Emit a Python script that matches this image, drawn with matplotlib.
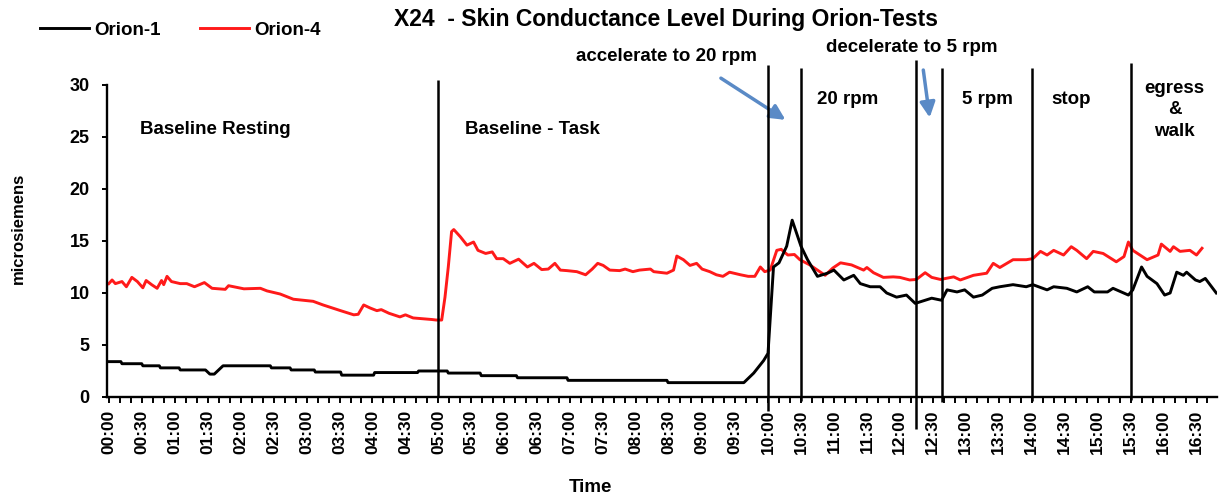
import matplotlib
matplotlib.use("Agg")
import matplotlib.pyplot as plt
import numpy as np

plt.rcParams["font.family"] = ["Liberation Sans", "DejaVu Sans"]
plt.rcParams["font.weight"] = "bold"

# time in minutes from start, skin conductance in microsiemens
orion1_t = [0, 11, 12, 30, 31, 46, 47, 64, 65, 88, 92, 96, 104, 147, 148, 165, 166, 187,
            188, 211, 212, 241, 242, 281, 282, 308, 309, 338, 339, 371, 372, 417, 418, 508,
            509, 578, 587, 596, 600, 605, 610, 617, 622, 630, 636, 645, 654, 660, 669, 678,
            684, 693, 702, 708, 717, 726, 734, 743, 749, 758, 763, 772, 779, 787, 795, 804,
            811, 823, 835, 841, 854, 860, 872, 881, 891, 897, 909, 914, 928, 932, 940, 945,
            954, 961, 966, 972, 978, 981, 989, 993, 998, 1008]
orion1_v = [3.4, 3.4, 3.2, 3.2, 3.0, 3.0, 2.8, 2.8, 2.6, 2.6, 2.2, 2.2, 3.0, 3.0, 2.8, 2.8,
            2.6, 2.6, 2.4, 2.4, 2.1, 2.1, 2.35, 2.35, 2.5, 2.5, 2.3, 2.3, 2.05, 2.05, 1.85,
            1.85, 1.6, 1.6, 1.38, 1.38, 2.3, 3.5, 4.2, 12.5, 12.9, 14.5, 17.0, 14.5, 13.2,
            11.6, 11.9, 12.2, 11.25, 11.7, 10.9, 10.6, 10.6, 10.0, 9.6, 9.8, 9.0, 9.3, 9.5,
            9.3, 10.3, 10.1, 10.3, 9.6, 9.8, 10.45, 10.6, 10.8, 10.6, 10.8, 10.3, 10.6,
            10.45, 10.1, 10.6, 10.1, 10.1, 10.45, 9.8, 10.3, 12.5, 11.6, 10.9, 9.8, 10.0,
            12.0, 11.7, 12.0, 11.25, 11.1, 11.4, 10.0]

orion4_t = [0, 3, 6, 9, 12, 16, 21, 26, 31, 34, 39, 44, 48, 50, 53, 57, 61, 65, 71, 78, 87,
            94, 106, 109, 123, 138, 144, 156, 168, 186, 195, 211, 223, 227, 232, 238, 244,
            248, 255, 265, 270, 277, 294, 298, 303, 306, 309, 312, 314, 320, 326, 332, 336,
            343, 349, 353, 359, 365, 373, 381, 387, 394, 400, 406, 411, 417, 426, 434, 440,
            445, 450, 456, 465, 470, 477, 483, 493, 496, 508, 514, 517, 523, 529, 535, 540,
            547, 553, 559, 565, 575, 582, 588, 593, 597, 602, 608, 612, 618, 624, 629, 638,
            652, 659, 666, 676, 687, 690, 696, 705, 714, 720, 729, 735, 743, 749, 757, 769,
            775, 787, 799, 805, 811, 823, 835, 841, 848, 854, 860, 869, 876, 881, 890, 896,
            905, 917, 924, 928, 932, 945, 955, 958, 966, 969, 975, 984, 990, 995]
orion4_v = [10.9, 11.25, 10.9, 11.0, 11.1, 10.6, 11.5, 11.1, 10.5, 11.2, 10.8, 10.45, 11.2,
            10.8, 11.6, 11.1, 11.0, 10.9, 10.9, 10.6, 11.0, 10.45, 10.35, 10.7, 10.4, 10.45,
            10.2, 9.9, 9.4, 9.2, 8.85, 8.3, 7.9, 7.95, 8.85, 8.55, 8.3, 8.4, 8.05, 7.7, 7.9,
            7.6, 7.45, 7.4, 7.4, 9.6, 12.5, 15.9, 16.1, 15.4, 14.6, 14.9, 14.1, 13.8, 13.95,
            13.3, 13.3, 12.85, 13.25, 12.5, 12.85, 12.25, 12.3, 12.85, 12.2, 12.15, 12.05,
            11.75, 12.3, 12.85, 12.65, 12.2, 12.15, 12.3, 12.05, 12.2, 12.3, 12.05, 11.9,
            12.2, 13.55, 13.2, 12.65, 12.85, 12.3, 12.05, 11.75, 11.6, 12.0, 11.75, 11.6,
            11.6, 12.5, 12.05, 12.2, 14.1, 14.2, 13.65, 13.7, 13.2, 12.7, 11.7, 12.4, 12.9,
            12.7, 12.2, 12.45, 11.95, 11.5, 11.55, 11.5, 11.25, 11.3, 11.95, 11.5, 11.3,
            11.55, 11.25, 11.7, 11.9, 12.85, 12.45, 13.2, 13.2, 13.3, 14.0, 13.65, 14.1,
            13.65, 14.45, 14.1, 13.3, 14.0, 13.8, 13.0, 13.5, 14.9, 14.1, 13.2, 13.65, 14.7,
            14.0, 14.45, 14.0, 14.1, 13.65, 14.3]

# phase boundaries (minutes) and how far each marker line runs
phase_t = [300, 600, 630, 735, 758, 840, 930]
phase_top = [30.5, 31.9, 31.6, 32.4, 31.6, 31.6, 32.1]
phase_bottom = [0, -1.3, -0.4, -3.1, -0.5, -0.4, -0.3]

phase_labels = [
    ("Baseline Resting", 28, 25.7),
    ("Baseline - Task", 324, 25.7),
    ("20 rpm", 645, 28.6),
    ("5 rpm", 777, 28.6),
    ("stop", 858, 28.6),
]

fig = plt.figure(figsize=(12.19, 5.01), dpi=100)
ax = fig.add_axes([0.0878, 0.2076, 0.9106, 0.6228])

ax.plot(orion1_t, orion1_v, color="black", lw=2.1, label="Orion-1", zorder=3)
ax.plot(orion4_t, orion4_v, color="#ff1a1a", lw=2.1, label="Orion-4", zorder=2)

ax.vlines(phase_t, phase_bottom, phase_top, color="black", lw=1.8, clip_on=False, zorder=4)

ax.set_xlim(-1.6, 1008.7)
ax.set_ylim(0, 30)

ticks = np.arange(0, 1001, 10)
ax.set_xticks(ticks)
ax.set_xticklabels([f"{m // 60:02d}:{m % 60:02d}" if m % 30 == 0 else "" for m in ticks],
                   rotation=90, fontsize=12.5, fontweight="bold")
ax.set_yticks(range(0, 31, 5))
ax.set_yticklabels([str(v) for v in range(0, 31, 5)], fontsize=13, fontweight="bold")

ax.tick_params(axis="x", direction="out", length=4, width=1.4, pad=5)
ax.tick_params(axis="y", direction="out", length=3.5, width=1.4, pad=9)
for side in ("top", "right"):
    ax.spines[side].set_visible(False)
for side in ("left", "bottom"):
    ax.spines[side].set_linewidth(1.7)

for txt, x, y in phase_labels:
    ax.text(x, y, txt, ha="left", va="center", fontsize=13.5, fontweight="bold")
ax.text(970, 27.6, "egress\n&\nwalk", ha="center", va="center", fontsize=13.5,
        fontweight="bold", linespacing=1.32, multialignment="center")

arrow_col = "#5a8ac6"
ax.text(425, 32.7, "accelerate to 20 rpm", ha="left", va="center", fontsize=13.5, fontweight="bold")
ax.annotate("", xy=(618, 26.5), xytext=(555, 30.8), annotation_clip=False,
            arrowprops=dict(arrowstyle="-|>,head_length=0.9,head_width=0.45",
                            color=arrow_col, lw=2.5))
ax.text(653, 33.65, "decelerate to 5 rpm", ha="left", va="center", fontsize=13.5, fontweight="bold")
ax.annotate("", xy=(747.5, 26.6), xytext=(741, 31.7), annotation_clip=False,
            arrowprops=dict(arrowstyle="-|>,head_length=0.9,head_width=0.45",
                            color=arrow_col, lw=2.5))

fig.text(0.546, 0.962, "X24  - Skin Conductance Level During Orion-Tests", ha="center",
         va="center", fontsize=16.5, fontweight="bold")
fig.text(18 / 1219, 1 - 228 / 501, "microsiemens", rotation=90, ha="center", va="center",
         fontsize=12, fontweight="bold")
fig.text(590 / 1219, 1 - 488 / 501, "Time", ha="center", va="center", fontsize=13.5,
         fontweight="bold")

fig.legend(loc="center left", bbox_to_anchor=(40 / 1219, 1 - 30 / 501), ncol=2,
           frameon=False, fontsize=13.5, handlelength=2.6, handletextpad=0.3,
           columnspacing=2.1, borderpad=0, borderaxespad=0)

fig.savefig("out.png", dpi=100)
